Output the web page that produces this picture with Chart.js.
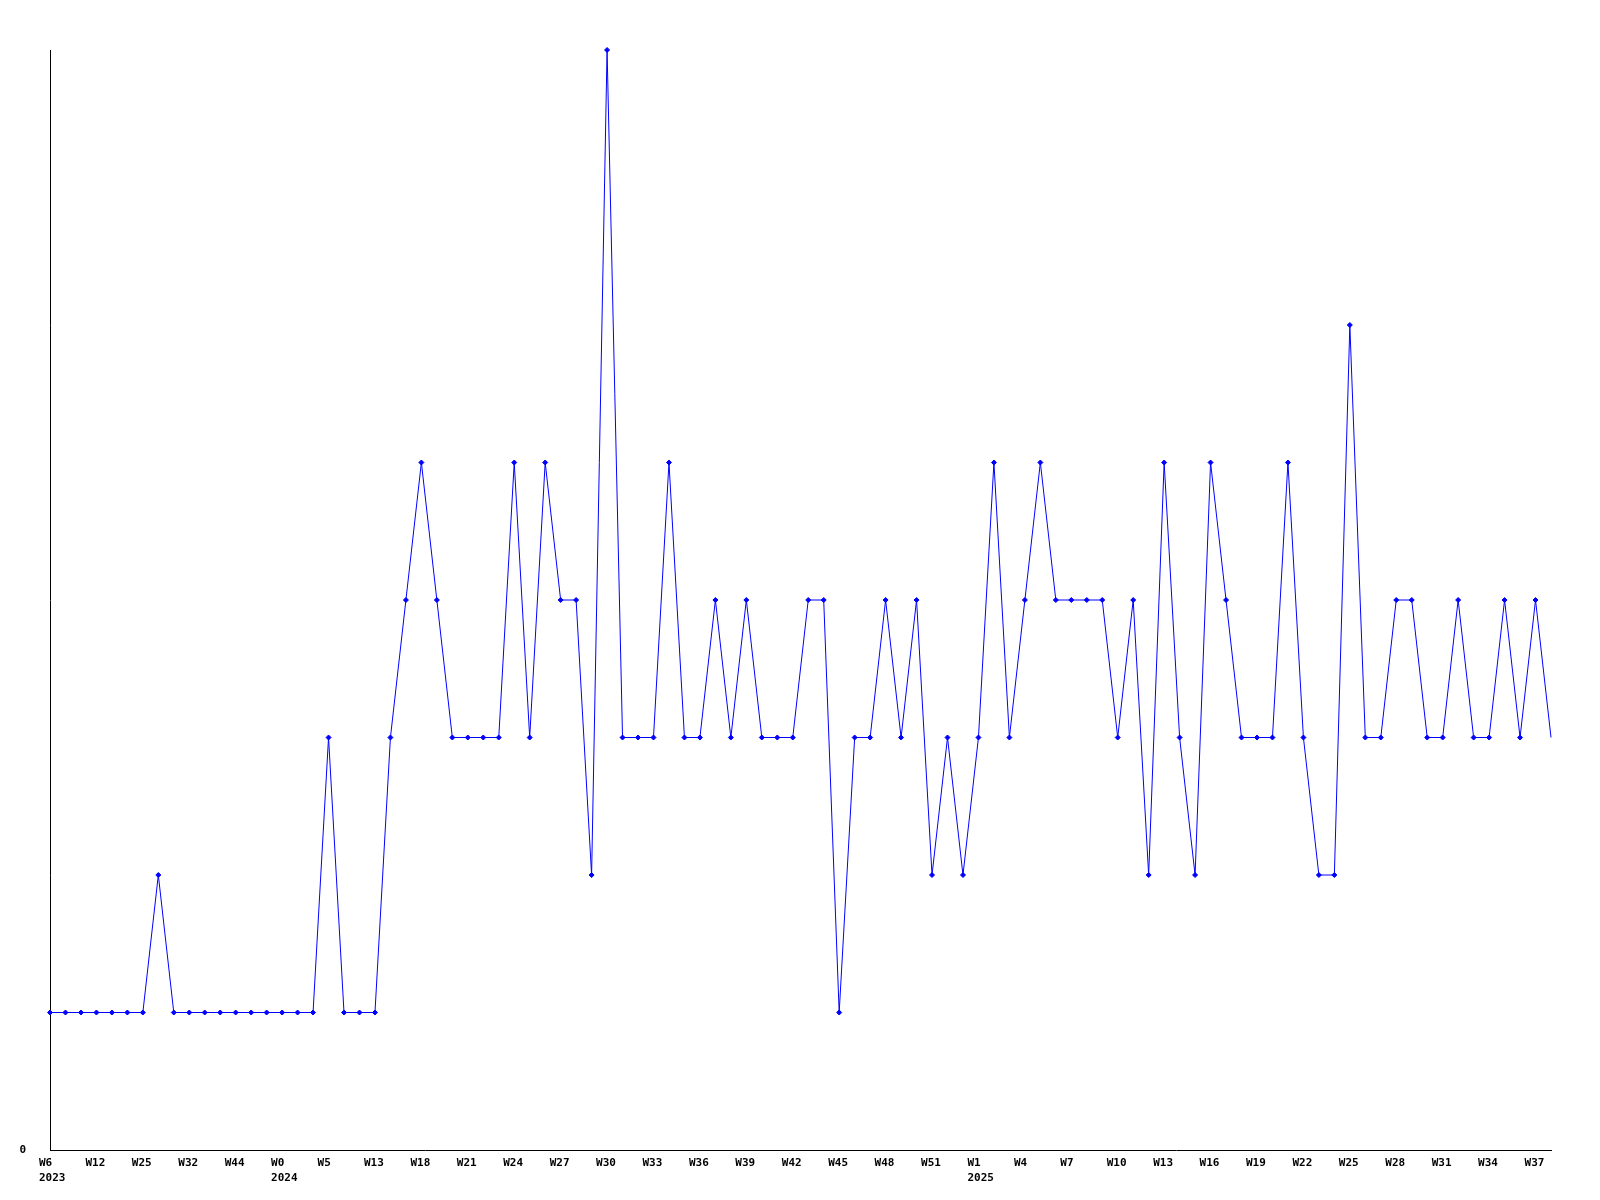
<!DOCTYPE html>
<html>
<head>
<meta charset="utf-8">
<script src="https://cdn.jsdelivr.net/npm/chart.js@4/dist/chart.umd.min.js"></script>
<style>
  html, body { margin: 0; padding: 0; background: #ffffff; }
  #chart { display: block; }
</style>
</head>
<body>
<canvas id="chart" width="1600" height="1200"></canvas>
<script>
// one value per week
const weeklyValues = [
    1, 1, 1, 1, 1, 1, 1, 2, 1, 1,
    1, 1, 1, 1, 1, 1, 1, 1, 3, 1,
    1, 1, 3, 4, 5, 4, 3, 3, 3, 3,
    5, 3, 5, 4, 4, 2, 8, 3, 3, 3,
    5, 3, 3, 4, 3, 4, 3, 3, 3, 4,
    4, 1, 3, 3, 4, 3, 4, 2, 3, 2,
    3, 5, 3, 4, 5, 4, 4, 4, 4, 3,
    4, 2, 5, 3, 2, 5, 4, 3, 3, 3,
    5, 3, 2, 2, 6, 3, 3, 4, 4, 3,
    3, 4, 3, 3, 4, 3, 4, 3,
];

// labels shown on every third week
const weekTicks = [
    'W6', 'W12', 'W25', 'W32', 'W44', 'W0', 'W5', 'W13', 'W18', 'W21', 'W24',
    'W27', 'W30', 'W33', 'W36', 'W39', 'W42', 'W45', 'W48', 'W51', 'W1', 'W4',
    'W7', 'W10', 'W13', 'W16', 'W19', 'W22', 'W25', 'W28', 'W31', 'W34', 'W37',
];
const yearTicks = [
    '2023', '', '', '', '', '2024', '', '', '', '', '',
    '', '', '', '', '', '', '', '', '', '2025', '',
    '', '', '', '', '', '', '', '', '', '', '',
];
const tickEvery = 3;
const yMax = 8;

const lineColor = '#0000ff';
const axisFont = { family: '"DejaVu Sans Mono", monospace', size: 11, weight: 'bold', lineHeight: '15px' };

const labels = weeklyValues.map((_v, i) => {
    if (i % tickEvery !== 0) return '';
    const k = i / tickEvery;
    return yearTicks[k] ? [weekTicks[k], yearTicks[k]] : weekTicks[k];
});

new Chart(document.getElementById('chart'), {
    type: 'line',
    data: {
        labels,
        datasets: [{
            data: weeklyValues,
            borderColor: lineColor,
            backgroundColor: lineColor,
            borderWidth: 1,
            tension: 0,
            fill: false,
            pointStyle: 'rectRot',
            pointRadius: (ctx) => (ctx.dataIndex === weeklyValues.length - 1 ? 0 : 2.5),
            pointBorderWidth: 1,
            pointBorderColor: lineColor,
            pointBackgroundColor: lineColor,
            clip: false,
        }],
    },
    options: {
        responsive: false,
        animation: false,
        layout: { padding: { top: 50, right: 49, left: 0, bottom: 0 } },
        plugins: {
            legend: { display: false },
            tooltip: { enabled: false },
        },
        scales: {
            x: {
                grid: { display: false, drawTicks: false },
                border: { display: true, color: '#000000', width: 1 },
                afterFit: (scale) => { scale.height = 50; },
                ticks: {
                    autoSkip: false,
                    maxRotation: 0,
                    minRotation: 0,
                    align: 'start',
                    labelOffset: -11,
                    padding: 6,
                    color: '#000000',
                    font: axisFont,
                },
            },
            y: {
                min: 0,
                max: yMax,
                grid: { display: false, drawTicks: false },
                border: { display: true, color: '#000000', width: 1 },
                afterFit: (scale) => { scale.width = 50; },
                ticks: {
                    stepSize: 1,
                    padding: 24,
                    color: '#000000',
                    font: axisFont,
                    callback: (value) => (value === 0 ? '0' : ''),
                },
            },
        },
    },
});
</script>
</body>
</html>
